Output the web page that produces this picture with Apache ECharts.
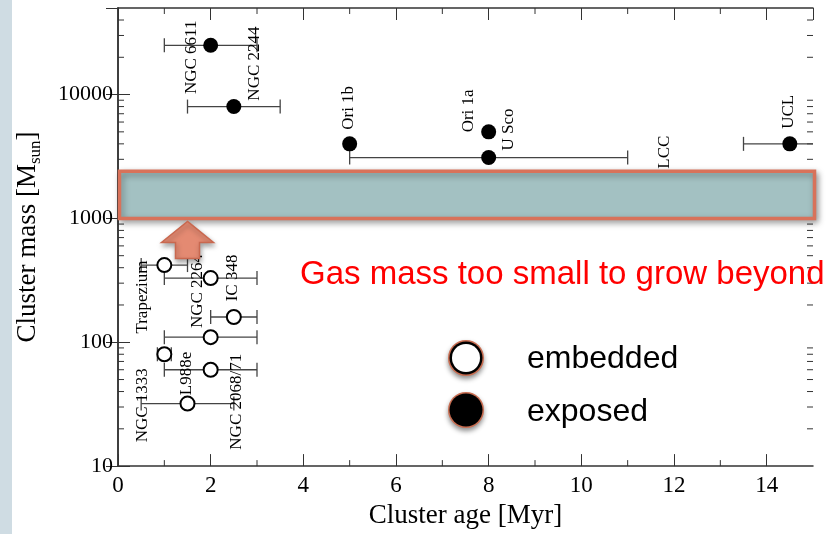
<!DOCTYPE html>
<html>
<head>
<meta charset="utf-8">
<script src="https://cdn.jsdelivr.net/npm/echarts@6/dist/echarts.min.js"></script>
<style>
  html, body { margin: 0; padding: 0; background: #fff; }
  #main { width: 828px; height: 534px; }
</style>
</head>
<body>
<div id="main"></div>
<script>
// exposed clusters (filled)
const exposedNames = ['NGC 6611', 'NGC 2244', 'Ori 1b', 'Ori 1a', 'U Sco', 'LCC', 'UCL']
const exposedAge = [2, 2.5, 5, 8, 8, 12, 14.5]
const exposedMass = [25000, 8000, 4000, 5000, 3100, 2000, 4000]
const exposedAgeLo = [1, 1.5, 5, 8, 5, 12, 13.5]
const exposedAgeHi = [3, 3.5, 5, 8, 11, 12, 15.5]

// embedded clusters (open)
const embeddedNames = ['Trapezium', 'NGC 1333', 'L988e', 'NGC 2264', '', 'IC 348', 'NGC 2068/71']
const embeddedAge = [1, 1, 1.5, 2, 2, 2.5, 2]
const embeddedMass = [420, 80, 32, 330, 110, 160, 60]
const embeddedAgeLo = [0.5, 0.85, 0.5, 1, 1, 2, 1]
const embeddedAgeHi = [1.5, 1.15, 2.5, 3, 3, 3, 3]

// shaded gas-mass band and arrow
const bandAge = [0, 15]
const bandMass = [1000, 2400]
const arrowTip = [1.5, 1000]

// minor tick values
const minorAge = [1, 3, 5, 7, 9, 11, 13]
const minorMass = [20, 30, 40, 50, 60, 70, 80, 90,
  200, 300, 400, 500, 600, 700, 800, 900,
  2000, 3000, 4000, 5000, 6000, 7000, 8000, 9000,
  20000, 30000, 40000]

// label placement: screen pixels [right, down] from the point centre (styling only)
const exposedLabelShift = [[-19, 12], [21, -43], [-1, -36], [-20, -21], [20, -28], [-9, -29], [-1, -32]]
const embeddedLabelShift = [[-22, 32], [-22, 51], [-1, -30], [-13, 13], [0, 0], [-1, -39], [26, 32]]

const serif = 'Liberation Serif'
const axisColor = '#333'

const chart = echarts.init(document.getElementById('main'))

// labels are rotated 90deg, so the offset is given in the rotated frame
function points(names, ages, masses, shifts) {
  return names.map((n, i) => ({
    name: n,
    value: [ages[i], masses[i]],
    label: { offset: [-shifts[i][1], shifts[i][0]] }
  }))
}
function bars(lo, hi, mass) {
  return lo.map((l, i) => [l, hi[i], mass[i]])
}

function renderErr(params, api) {
  const lo = api.value(0), hi = api.value(1), m = api.value(2)
  if (lo === hi) return
  const cs = params.coordSys
  const p1 = api.coord([lo, m]), p2 = api.coord([hi, m])
  const left = Math.max(p1[0], cs.x), right = Math.min(p2[0], cs.x + cs.width)
  const st = { stroke: '#444', lineWidth: 1.3 }
  const y = p1[1]
  const kids = [{ type: 'line', shape: { x1: left, y1: y, x2: right, y2: y }, style: st }]
  if (p1[0] >= cs.x) kids.push({ type: 'line', shape: { x1: p1[0], y1: y - 7, x2: p1[0], y2: y + 7 }, style: st })
  if (p2[0] <= cs.x + cs.width) kids.push({ type: 'line', shape: { x1: p2[0], y1: y - 7, x2: p2[0], y2: y + 7 }, style: st })
  return { type: 'group', children: kids }
}

function renderTicks(params, api) {
  const cs = params.coordSys
  const st = { stroke: axisColor, lineWidth: 1 }
  if (api.value(2) === 0) {
    const x = api.coord([api.value(0), 10])[0]
    const b = cs.y + cs.height
    return { type: 'group', children: [
      { type: 'line', shape: { x1: x, y1: b, x2: x, y2: b - 6 }, style: st },
      { type: 'line', shape: { x1: x, y1: cs.y, x2: x, y2: cs.y + 6 }, style: st }
    ] }
  }
  const y = api.coord([0, api.value(1)])[1]
  const r = cs.x + cs.width
  return { type: 'group', children: [
    { type: 'line', shape: { x1: cs.x, y1: y, x2: cs.x + 6, y2: y }, style: st },
    { type: 'line', shape: { x1: r, y1: y, x2: r - 6, y2: y }, style: st }
  ] }
}

const tickData = minorAge.map(v => [v, 10, 0]).concat(minorMass.map(v => [0, v, 1]))

const labelStyle = {
  show: true, formatter: '{b}', position: 'inside', rotate: 90,
  color: '#000', fontFamily: serif, fontSize: 17, textBorderWidth: 0
}

const xBase = {
  type: 'value', min: 0, max: 15, interval: 2,
  axisLine: { lineStyle: { color: axisColor, width: 1.5 } },
  axisTick: { inside: true, length: 12, lineStyle: { color: axisColor, width: 1 } },
  splitLine: { show: false }
}
const yBase = {
  type: 'log', logBase: 10, min: 10, max: 50000,
  axisLine: { show: true, lineStyle: { color: axisColor, width: 1.5 } },
  axisTick: { show: true, inside: true, length: 12, lineStyle: { color: axisColor, width: 1 } },
  splitLine: { show: false }
}

chart.setOption({
  backgroundColor: '#fff',
  animation: false,
  textStyle: { fontFamily: serif },
  grid: { left: 118, right: 15, top: 8, bottom: 59, containLabel: false },
  xAxis: [
    Object.assign({}, xBase, {
      position: 'bottom',
      axisLabel: { showMaxLabel: false, color: '#000', fontFamily: serif, fontSize: 23, margin: 8 },
      name: 'Cluster age [Myr]', nameLocation: 'middle', nameGap: 32,
      nameTextStyle: { color: '#000', fontFamily: serif, fontSize: 27 }
    }),
    Object.assign({}, xBase, { position: 'top', axisLabel: { show: false } })
  ],
  yAxis: [
    Object.assign({}, yBase, {
      position: 'left',
      axisLabel: {
        showMaxLabel: false, color: '#000', fontFamily: serif, fontSize: 22, margin: 5,
        formatter: v => String(Math.round(v))
      },
      name: '{a|Cluster mass [M}{s|sun}{a|]}', nameLocation: 'middle', nameGap: 74,
      nameTextStyle: {
        rich: {
          a: { color: '#000', fontFamily: serif, fontSize: 27, lineHeight: 32 },
          s: { color: '#000', fontFamily: serif, fontSize: 17, verticalAlign: 'bottom', lineHeight: 32, padding: [10, 0, 0, 0] }
        }
      }
    }),
    Object.assign({}, yBase, { position: 'right', axisLabel: { show: false } })
  ],
  graphic: [
    { type: 'rect', left: 0, top: 0, shape: { width: 12, height: 534 }, style: { fill: '#cfdce3' }, z: 0 },
    { type: 'text', left: 300, top: 258, z: 20,
      style: { text: 'Gas mass too small to grow beyond', fill: '#ff0000', font: '33px "Liberation Sans"' } },
    { type: 'circle', shape: { cx: 466, cy: 358, r: 18 }, z: 20,
      style: { fill: '#c96d51', shadowBlur: 5, shadowOffsetY: 3, shadowColor: 'rgba(0,0,0,0.45)' } },
    { type: 'circle', shape: { cx: 466, cy: 358, r: 16.5 }, z: 21, style: { fill: '#000' } },
    { type: 'circle', shape: { cx: 466, cy: 358, r: 14 }, z: 22, style: { fill: '#fff' } },
    { type: 'circle', shape: { cx: 466, cy: 410, r: 18 }, z: 20,
      style: { fill: '#c96d51', shadowBlur: 5, shadowOffsetY: 3, shadowColor: 'rgba(0,0,0,0.45)' } },
    { type: 'circle', shape: { cx: 466, cy: 410, r: 16.5 }, z: 21, style: { fill: '#000' } },
    { type: 'text', left: 527, top: 343, z: 20, style: { text: 'embedded', fill: '#000', font: '32px "Liberation Sans"' } },
    { type: 'text', left: 527, top: 396, z: 20, style: { text: 'exposed', fill: '#000', font: '32px "Liberation Sans"' } }
  ],
  series: [
    {
      type: 'custom', name: 'minor ticks', renderItem: renderTicks, data: tickData,
      xAxisIndex: 0, yAxisIndex: 0, silent: true, z: 1
    },
    {
      type: 'custom', name: 'exposed err', renderItem: renderErr,
      data: bars(exposedAgeLo, exposedAgeHi, exposedMass), z: 2, silent: true
    },
    {
      type: 'custom', name: 'embedded err', renderItem: renderErr,
      data: bars(embeddedAgeLo, embeddedAgeHi, embeddedMass), z: 2, silent: true
    },
    {
      type: 'scatter', name: 'exposed', symbolSize: 15, z: 3,
      itemStyle: { color: '#000', opacity: 1 },
      label: labelStyle,
      data: points(exposedNames, exposedAge, exposedMass, exposedLabelShift)
    },
    {
      type: 'scatter', name: 'embedded', symbolSize: 14, z: 3,
      itemStyle: { color: '#fff', borderColor: '#000', borderWidth: 2, opacity: 1 },
      label: labelStyle,
      data: points(embeddedNames, embeddedAge, embeddedMass, embeddedLabelShift)
    },
    {
      type: 'custom', name: 'band', z: 5, silent: true,
      data: [[bandAge[0], bandMass[0], bandAge[1], bandMass[1]]],
      renderItem: function (params, api) {
        const p1 = api.coord([api.value(0), api.value(1)])
        const p2 = api.coord([api.value(2), api.value(3)])
        return {
          type: 'rect',
          shape: { x: p1[0] + 1.5, y: p2[1], width: p2[0] - p1[0], height: p1[1] - p2[1] },
          style: {
            fill: '#a3c1c2', stroke: '#d8725a', lineWidth: 3.5,
            shadowBlur: 6, shadowOffsetX: 2, shadowOffsetY: 3, shadowColor: 'rgba(0,0,0,0.35)'
          }
        }
      }
    },
    {
      type: 'custom', name: 'arrow', z: 6, silent: true,
      data: [arrowTip],
      renderItem: function (params, api) {
        const t = api.coord([api.value(0), api.value(1)])
        const x = t[0], y = t[1] + 3
        const pts = [[x, y], [x + 26, y + 21], [x + 12, y + 21], [x + 12, y + 37],
          [x - 12, y + 37], [x - 12, y + 21], [x - 26, y + 21]]
        return {
          type: 'polygon', shape: { points: pts },
          style: {
            fill: '#e48a72', stroke: '#c9684f', lineWidth: 1.5,
            shadowBlur: 5, shadowOffsetX: 1, shadowOffsetY: 3, shadowColor: 'rgba(0,0,0,0.35)'
          }
        }
      }
    }
  ]
})
</script>
</body>
</html>
